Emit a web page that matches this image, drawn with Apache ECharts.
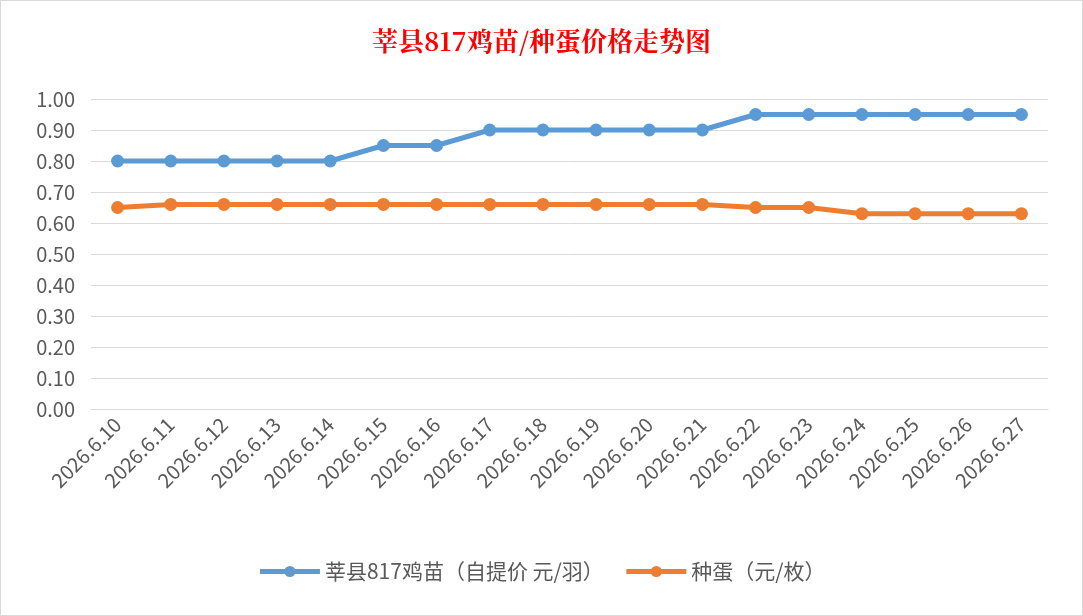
<!DOCTYPE html>
<html><head><meta charset="utf-8">
<script src="https://cdn.jsdelivr.net/npm/echarts@6/dist/echarts.min.js"></script>
<style>html,body{margin:0;padding:0;background:#fff}#c{width:1083px;height:616px;box-sizing:border-box;border:1px solid #d9d9d9}</style>
</head><body><div id="c"></div>
<script>
// 日期
let dates = ['2026.6.10','2026.6.11','2026.6.12','2026.6.13','2026.6.14','2026.6.15','2026.6.16','2026.6.17','2026.6.18',
  '2026.6.19','2026.6.20','2026.6.21','2026.6.22','2026.6.23','2026.6.24','2026.6.25','2026.6.26','2026.6.27'];
// 鸡苗价格
let chick = [0.80,0.80,0.80,0.80,0.80,0.85,0.85,0.90,0.90,0.90,0.90,0.90,0.95,0.95,0.95,0.95,0.95,0.95];
// 种蛋价格
let egg = [0.65,0.66,0.66,0.66,0.66,0.66,0.66,0.66,0.66,0.66,0.66,0.66,0.65,0.65,0.63,0.63,0.63,0.63];

let font = '"Noto Sans CJK SC", sans-serif';
let e1 = echarts.init(document.getElementById('c'));
let line = function (name, data, color) {
  return {
    name: name, type: 'line', data: data, symbol: 'circle', symbolSize: 13,
    lineStyle: {width: 5, color: color}, itemStyle: {color: color}
  };
};
e1.setOption({
  animation: false,
  title: {
    text: '莘县817鸡苗/种蛋价格走势图', left: 'center', top: 22,
    textStyle: {color: '#ff0000', fontSize: 26, fontWeight: 'bold', fontFamily: '"Noto Serif CJK SC", "Noto Sans CJK SC", serif'}
  },
  legend: {
    bottom: 28, itemWidth: 60, itemHeight: 14, itemGap: 20,
    lineStyle: {width: 5},
    textStyle: {fontSize: 21, color: '#595959', fontFamily: font}
  },
  grid: {left: 90, right: 34, top: 98, bottom: 206},
  xAxis: {
    type: 'category', data: dates, boundaryGap: true,
    axisLine: {lineStyle: {color: '#d9d9d9'}}, axisTick: {show: false},
    axisLabel: {rotate: 45, fontSize: 20, color: '#595959', fontFamily: font, margin: 12}
  },
  yAxis: {
    type: 'value', min: 0, max: 1, interval: 0.1,
    axisLabel: {fontSize: 20, color: '#595959', fontFamily: font, formatter: v => v.toFixed(2), margin: 16},
    splitLine: {lineStyle: {color: '#d9d9d9'}}
  },
  series: [
    line('莘县817鸡苗（自提价 元/羽）', chick, '#5b9bd5'),
    line('种蛋（元/枚）', egg, '#ed7d31')
  ]
});
</script></body></html>
